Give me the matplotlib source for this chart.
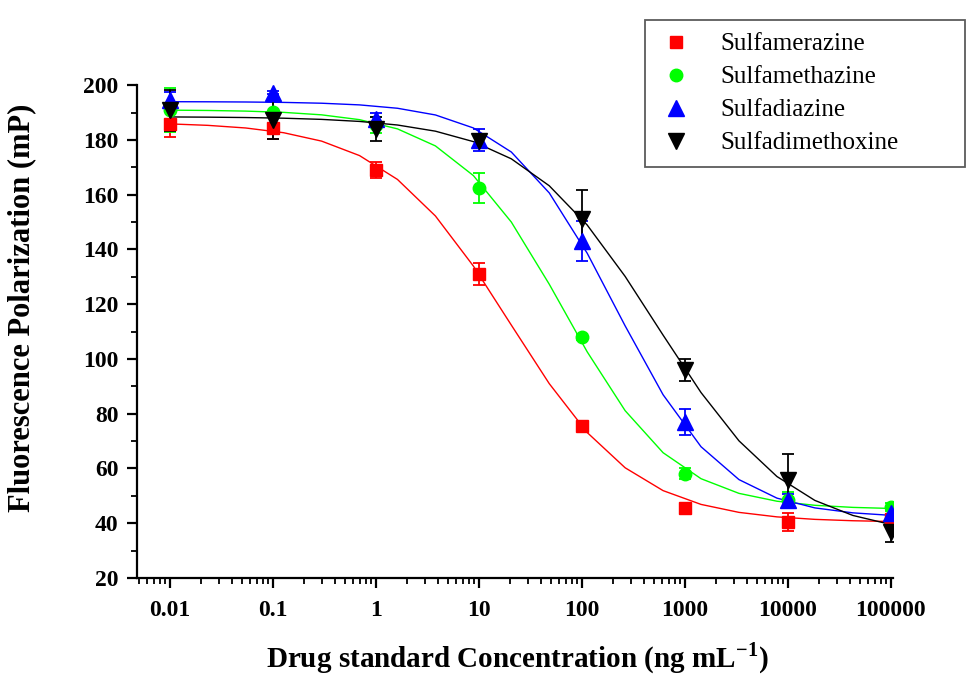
import numpy as np
import matplotlib
matplotlib.use('Agg')
import matplotlib.pyplot as plt

plt.rcParams['font.family'] = ['Liberation Serif', 'DejaVu Serif']
plt.rcParams['mathtext.fontset'] = 'custom'
plt.rcParams['mathtext.rm'] = 'Liberation Serif'
plt.rcParams['mathtext.bf'] = 'Liberation Serif:bold'

# Concentraciones (ng/mL)
conc = [0.01, 0.1, 1, 10, 100, 1000, 10000, 100000]
conc_labels = ['0.01', '0.1', '1', '10', '100', '1000', '10000', '100000']

names = ['Sulfamerazine', 'Sulfamethazine', 'Sulfadiazine', 'Sulfadimethoxine']

# Polarización medida (mP)
fp_smr = [186, 184.5, 169, 131, 75.4, 45.6, 40.5, 41.5]
fp_smz = [191, 190.2, 185.5, 162.3, 108, 58.1, 48.5, 45.9]
fp_sdz = [194.5, 197.2, 187.5, 180, 143, 77, 48.5, 43.7]
fp_sdm = [190.8, 187.4, 184, 179.5, 151.3, 95.9, 55.7, 36.8]

# Desviaciones
sd_smr = [5, 4.3, 2.8, 3.9, 0.5, 0.3, 3.2, 1]
sd_smz = [8, 4.3, 3, 5.5, 1, 2, 3, 1.5]
sd_sdz = [3, 0.5, 2.5, 3.9, 7.4, 4.6, 2, 2]
sd_sdm = [7.5, 7, 4.5, 2, 10.5, 4.1, 9.5, 3.5]

# Parámetros del ajuste logístico de 4 parámetros: top, bottom, IC50, pendiente
fit_top = [186.5, 191, 194, 188.5]
fit_bottom = [40.3, 45, 42, 35]
fit_ic50 = [19.9, 66.4, 219, 547]
fit_slope = [0.714, 0.807, 0.84, 0.67]

series = [fp_smr, fp_smz, fp_sdz, fp_sdm]
errors = [sd_smr, sd_smz, sd_sdz, sd_sdm]
colors = ['#ff0000', '#00ff00', '#0000ff', '#000000']
markers = ['s', 'o', '^', 'v']
msizes = [8.5, 9, 11.5, 11.5]

fig = plt.figure(figsize=(9.7, 6.76), dpi=100)
ax = fig.add_axes([0.141, 0.145, 0.780, 0.729])

# Curva ajustada evaluada en 20 puntos (como la exporta Origin)
x_fit = np.logspace(-2, 5, 20)
for i in range(4):
    y_fit = fit_bottom[i] + (fit_top[i] - fit_bottom[i]) / \
        (1 + (x_fit / fit_ic50[i]) ** fit_slope[i])
    ax.plot(x_fit, y_fit, color=colors[i], lw=1.0, zorder=2)

handles = []
for i in range(4):
    ax.errorbar(conc, series[i], yerr=errors[i], fmt='none', ecolor=colors[i],
                elinewidth=1.3, capsize=4, capthick=1.3, zorder=3)
    h, = ax.plot(conc, series[i], ls='none', marker=markers[i], ms=msizes[i],
                 color=colors[i], mec=colors[i], label=names[i], zorder=4)
    handles.append(h)

ax.set_xscale('log')
ax.set_xlim(0.00478, 106000)
ax.set_ylim(20, 200)
ax.set_yticks(np.arange(20, 201, 20))
ax.set_yticks(np.arange(30, 200, 20), minor=True)
ax.set_xticks(conc)
ax.set_xticklabels(conc_labels)

for s in ['top', 'right']:
    ax.spines[s].set_visible(False)
for s in ['left', 'bottom']:
    ax.spines[s].set_linewidth(1.6)

ax.tick_params(which='major', direction='out', length=7, width=1.6,
               labelsize=17)
ax.tick_params(axis='x', which='major', pad=9)
ax.tick_params(axis='y', which='major', pad=6)
ax.tick_params(which='minor', direction='out', length=4, width=1.3)
for lab in ax.get_xticklabels() + ax.get_yticklabels():
    lab.set_fontfamily('Liberation Serif')
    lab.set_fontweight('bold')

fig.text(0.022, 0.545, 'Fluorescence Polarization (mP)', rotation=90,
         ha='center', va='center', fontsize=22, fontweight='bold',
         family='Liberation Serif')
fig.text(0.533, 0.0, r'Drug standard Concentration (ng mL$^{\mathbf{-1}}$)',
         ha='center', va='bottom', fontsize=21, fontweight='bold',
         family='Liberation Serif')

leg = fig.legend(handles=handles, loc='upper left',
                 bbox_to_anchor=(0.665, 0.765, 0.330, 0.205), mode='expand',
                 prop={'family': 'Liberation Serif', 'size': 18},
                 frameon=True, fancybox=False, numpoints=1,
                 handletextpad=1.0, labelspacing=0.42, borderpad=0.5,
                 handlelength=1.5, borderaxespad=0)
leg.get_frame().set_edgecolor('#333333')
leg.get_frame().set_linewidth(1.3)

plt.savefig('out.png', dpi=100)
